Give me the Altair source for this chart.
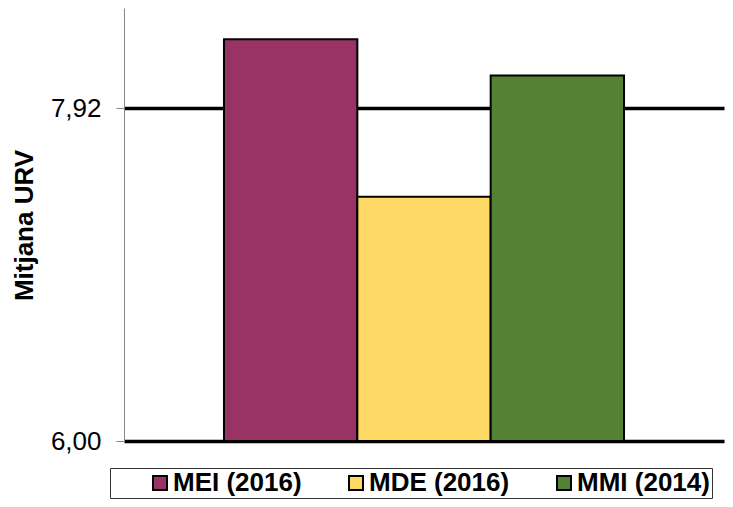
import altair as alt
import pandas as pd

series = ["MEI (2016)", "MDE (2016)", "MMI (2014)"]
values = [8.32, 7.41, 8.11]
colors = ["#993366", "#FFD966", "#548235"]
tick_values = [6.0, 7.92]

df = pd.DataFrame({"serie": series, "valor": values})

FONT = "Liberation Sans"

chart = alt.Chart(df).mark_bar(stroke="black", strokeWidth=2, opacity=1).encode(
    x=alt.X("serie:N", sort=series, axis=None,
            scale=alt.Scale(paddingInner=0, paddingOuter=0.75)),
    y=alt.Y("valor:Q",
            scale=alt.Scale(domain=[6, 8.5], zero=False, nice=False),
            axis=alt.Axis(values=tick_values, grid=True, gridColor="black",
                          gridWidth=3.5, domainColor="#868686", domainWidth=1,
                          tickColor="#868686", tickSize=8, tickWidth=1,
                          labelFont=FONT, labelFontSize=26, labelColor="black",
                          labelPadding=15,
                          labelExpr="replace(format(datum.value, '.2f'), '.', ',')",
                          title="Mitjana URV", titleFont=FONT, titleFontSize=26,
                          titleFontWeight="bold", titleColor="black",
                          titleAngle=270, titleAlign="center", titleBaseline="middle",
                          titleX=-100, titleY=217)),
    y2=alt.datum(6),
    color=alt.Color("serie:N", sort=series,
                    scale=alt.Scale(domain=series, range=colors),
                    legend=alt.Legend(orient="none", legendX=-14, legendY=460,
                                      direction="horizontal", columns=3,
                                      title=" ", titleOrient="left", titleFontSize=1,
                                      titlePadding=35,
                                      labelFont=FONT, labelFontSize=26,
                                      labelFontWeight="bold", labelColor="black",
                                      labelOffset=0, columnPadding=41,
                                      symbolType="square", symbolSize=196,
                                      symbolStrokeColor="black", symbolStrokeWidth=2,
                                      symbolOpacity=1,
                                      padding=2, strokeColor="#333333",
                                      fillColor="white")),
).properties(
    width=600, height=433,
    autosize=alt.AutoSizeParams(type="none"),
    padding={"left": 116, "top": 0, "right": 1, "bottom": 58},
).configure_view(stroke=None)

chart.save("out.html", embed_options={"renderer": "svg", "actions": False})
